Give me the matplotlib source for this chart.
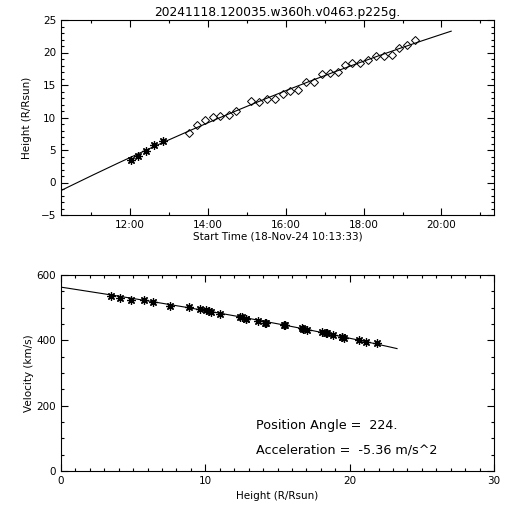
import numpy as np
import matplotlib
matplotlib.use('Agg')
import matplotlib.pyplot as plt
from matplotlib.ticker import MultipleLocator, FixedLocator

# donnees (heures decimales, hauteur en R/Rsun)
t_star = [12.03, 12.21, 12.41, 12.62, 12.84]
h_star = [3.46, 4.12, 4.85, 5.77, 6.38]
t_diam = [13.52, 13.72, 13.92, 14.12, 14.31, 14.53, 14.72, 15.10, 15.32, 15.53,
          15.73, 15.93, 16.12, 16.32, 16.51, 16.73, 16.92, 17.13, 17.33, 17.52,
          17.71, 17.91, 18.12, 18.31, 18.52, 18.72, 18.92, 19.12, 19.31]
h_diam = [7.57, 8.85, 9.60, 10.08, 10.28, 10.38, 11.05, 12.54, 12.43, 12.80,
          12.80, 13.62, 14.12, 14.23, 15.42, 15.51, 16.69, 16.80, 17.05, 18.08,
          18.43, 18.34, 18.85, 19.46, 19.46, 19.62, 20.65, 21.15, 21.92]
vel = [537, 529, 525, 523, 518, 506, 502, 497, 492, 489, 486, 482, 470, 472,
       466, 465, 459, 454, 452, 447, 446, 438, 436, 432, 425, 421, 423, 415,
       410, 409, 407, 400, 396, 392]

time_ticks = [12, 14, 16, 18, 20]
time_labels = ['12:00', '14:00', '16:00', '18:00', '20:00']
titre = '20241118.120035.w360h.v0463.p225g.'
pos_angle = '224.'
accel = '-5.36'

t_all = np.array(t_star + t_diam)
h_all = np.array(h_star + h_diam)

# ajustement quadratique h(t)
coef = np.polyfit(t_all, h_all, 2)
tfit = np.linspace(9.8, 20.25, 200)
hfit = np.polyval(coef, tfit)
vfit = np.polyval(np.polyder(coef), tfit) * 696000. / 3600.

fs = 7.5
f = plt.figure(figsize=(5.12, 5.12), dpi=100)

def style(ax):
    ax.tick_params(which='both', direction='in', top=True, right=True, labelsize=fs, width=0.8)
    ax.tick_params(which='major', length=5)
    ax.tick_params(which='minor', length=2.5)
    for s in ax.spines.values():
        s.set_linewidth(0.8)

########################## Hauteur / temps ##########################
ax1 = f.add_axes([61/512, 1-215/512, 433/512, 195/512])
ax1.plot(tfit, hfit, 'k-', lw=0.8)
ax1.plot(t_star, h_star, ls='none', marker=(8, 2, 0), ms=6, mec='k', mew=0.9)
ax1.plot(t_diam, h_diam, ls='none', marker='D', ms=4.5, mfc='none', mec='k', mew=0.7)
ax1.set_xlim(10.226, 21.35)
ax1.set_ylim(-5, 25)
ax1.xaxis.set_major_locator(FixedLocator(time_ticks))
ax1.set_xticklabels(time_labels)
ax1.xaxis.set_minor_locator(MultipleLocator(1))
ax1.yaxis.set_major_locator(MultipleLocator(5))
ax1.yaxis.set_minor_locator(MultipleLocator(1))
ax1.set_xlabel('Start Time (18-Nov-24 10:13:33)', fontsize=fs, labelpad=1)
ax1.set_ylabel('Height (R/Rsun)', fontsize=fs, labelpad=6)
ax1.set_title(titre, fontsize=8.8, pad=3)
style(ax1)

########################## Vitesse / hauteur ##########################
ax2 = f.add_axes([61/512, 1-471/512, 433/512, 196/512])
ax2.plot(hfit, vfit, 'k-', lw=0.8)
ax2.plot(h_all, vel, ls='none', marker=(8, 2, 0), ms=6, mec='k', mew=0.9)
ax2.set_xlim(0, 30)
ax2.set_ylim(0, 600)
ax2.xaxis.set_major_locator(MultipleLocator(10))
ax2.xaxis.set_minor_locator(MultipleLocator(1))
ax2.yaxis.set_major_locator(MultipleLocator(200))
ax2.yaxis.set_minor_locator(MultipleLocator(50))
ax2.set_xlabel('Height (R/Rsun)', fontsize=fs, labelpad=4)
ax2.set_ylabel('Velocity (km/s)', fontsize=fs, labelpad=2)
style(ax2)

f.text(256/512, 1-425/512, 'Position Angle =  ' + pos_angle, fontsize=9.2,
       va='center', ha='left')
f.text(256/512, 1-450/512, 'Acceleration =  ' + accel + ' m/s^2', fontsize=9.2,
       va='center', ha='left')

f.savefig('out.png', dpi=100)
